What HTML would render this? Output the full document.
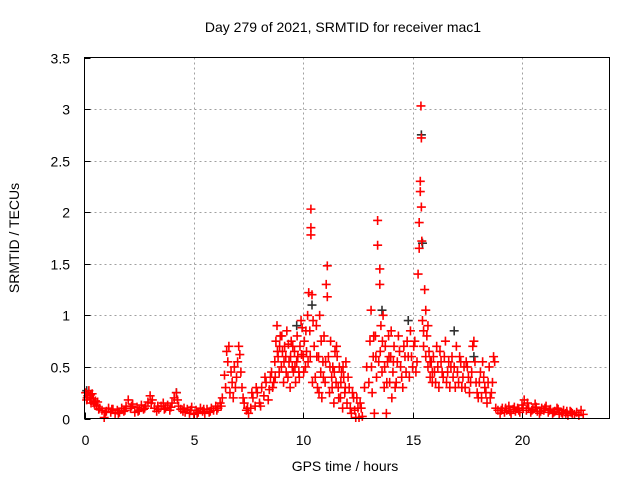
<!DOCTYPE html>
<html><head><meta charset="utf-8"><style>
body{margin:0;background:#fff}
svg{display:block;font-family:"Liberation Sans",sans-serif}
</style></head><body>
<svg id="chart" width="640" height="480" viewBox="0 0 640 480">
<rect width="640" height="480" fill="#fff"/>
<text x="343" y="32" font-size="14" text-anchor="middle" fill="#000">Day 279 of 2021, SRMTID for receiver mac1</text>
<text x="345" y="471" font-size="14" text-anchor="middle" fill="#000">GPS time / hours</text>
<text x="0" y="0" font-size="14" text-anchor="middle" fill="#000" transform="translate(19,238) rotate(-90)">SRMTID / TECUs</text>
<g id="grid"></g>
<g id="ticks"></g>
<g id="marks"></g>
<rect x="84.5" y="57.5" width="525" height="361" fill="none" stroke="#000" stroke-width="1"/>
</svg>
<script>
const xTicks=[0,5,10,15,20];
const yTicks=[0,0.5,1,1.5,2,2.5,3,3.5];
const yTickLabels=["0","0.5","1","1.5","2","2.5","3","3.5"];
const hours=[
0.05,0.1,0.15,0.2,0.25,0.3,0.35,0.4,0.45,0.5,
0.55,0.6,0.7,0.8,0.9,1.0,1.1,1.2,1.3,1.4,
1.5,1.6,1.7,1.8,1.9,2.0,2.1,2.2,2.3,2.4,
2.5,2.6,2.7,2.8,2.9,3.0,3.1,3.2,3.3,3.4,
3.5,3.6,3.7,3.8,3.9,4.0,4.1,4.2,4.3,4.4,
4.5,4.6,4.7,4.8,4.9,5.0,5.1,5.2,5.3,5.4,
5.5,5.6,5.7,5.8,5.9,6.0,6.1,6.2,6.3,6.4,
6.45,6.5,6.55,6.6,6.65,6.7,6.75,6.8,6.85,6.9,
6.95,7.0,7.05,7.1,7.15,7.2,7.3,7.4,7.5,7.6,
7.7,7.8,7.9,8.0,8.1,8.2,8.3,8.4,8.5,8.6,
8.7,8.75,8.8,8.85,8.9,8.95,9.0,9.05,9.1,9.15,
9.2,9.25,9.3,9.35,9.4,9.45,9.5,9.55,9.6,9.65,
9.7,9.75,9.8,9.85,9.9,9.95,10.0,10.05,10.1,10.15,
10.2,10.25,10.3,10.35,10.35,10.35,10.4,10.45,10.5,10.55,
10.6,10.65,10.7,10.75,10.8,10.85,10.9,10.95,11.0,11.05,
11.1,11.1,11.15,11.2,11.25,11.3,11.35,11.4,11.45,11.5,
11.55,11.6,11.65,11.7,11.75,11.8,11.85,11.9,11.95,12.0,
12.1,12.2,12.3,12.4,12.5,12.6,12.7,12.8,12.9,13.0,
13.05,13.1,13.15,13.2,13.25,13.3,13.35,13.4,13.4,13.45,
13.5,13.5,13.55,13.6,13.65,13.7,13.75,13.8,13.85,13.9,
13.95,14.0,14.05,14.1,14.15,14.2,14.3,14.4,14.5,14.6,
14.7,14.8,14.9,15.0,15.1,15.2,15.25,15.3,15.3,15.35,
15.35,15.38,15.4,15.4,15.42,15.45,15.5,15.55,15.6,15.65,
15.7,15.75,15.8,15.85,15.9,15.95,16.0,16.1,16.2,16.3,
16.4,16.5,16.6,16.7,16.8,16.9,17.0,17.1,17.2,17.3,
17.4,17.5,17.6,17.7,17.8,17.9,18.0,18.1,18.2,18.3,
18.4,18.5,18.6,18.7,18.8,18.9,19.0,19.1,19.2,19.3,
19.4,19.5,19.6,19.7,19.8,19.9,20.0,20.1,20.2,20.3,
20.4,20.5,20.6,20.7,20.8,20.9,21.0,21.1,21.2,21.3,
21.4,21.5,21.6,21.7,21.8,21.9,22.0,22.1,22.2,22.3,
22.4,22.5,22.6,22.7,22.8,
0.12,0.28,0.42,0.65,0.95,1.25,1.55,1.85,2.15,2.45,
2.75,3.05,3.35,3.65,3.95,4.25,4.55,4.85,5.15,5.45,
5.75,6.05,6.25,7.25,7.45,7.65,7.85,8.05,8.25,8.45,
8.55,8.65,8.72,8.82,8.92,9.02,9.12,9.22,9.32,9.42,
9.52,9.62,9.72,9.82,9.92,10.02,10.12,10.22,10.32,10.42,
10.62,10.72,10.82,10.92,11.02,11.22,11.32,11.42,11.52,11.62,
11.72,11.82,11.92,12.05,12.15,12.25,12.35,12.45,12.55,12.65,
13.12,13.22,13.32,13.52,13.62,13.72,13.82,13.92,14.02,14.12,
14.25,14.35,14.45,14.55,14.65,14.75,14.85,14.95,15.05,15.15,
15.5,15.6,15.7,15.8,15.9,16.05,16.15,16.25,16.35,16.45,
16.55,16.65,16.75,16.85,16.95,17.05,17.15,17.25,17.35,17.45,
17.55,17.65,17.75,17.85,17.95,18.05,18.15,18.25,18.35,18.45,
18.55,18.65,18.75,19.05,19.25,19.45,19.65,19.85,20.05,20.25,
20.45,20.65,20.85,21.05,21.25,21.45,21.65,21.85,22.05,22.25];
const srmtid=[
0.25,0.18,0.22,0.27,0.2,0.15,0.24,0.19,0.14,0.17,
0.12,0.16,0.1,0.08,0.0,0.07,0.1,0.06,0.09,0.05,
0.08,0.06,0.1,0.07,0.12,0.18,0.1,0.14,0.06,0.11,
0.08,0.13,0.09,0.12,0.16,0.22,0.18,0.1,0.07,0.09,
0.12,0.15,0.1,0.13,0.08,0.15,0.2,0.25,0.12,0.09,
0.07,0.06,0.09,0.05,0.11,0.04,0.08,0.06,0.1,0.07,
0.05,0.09,0.06,0.1,0.08,0.12,0.1,0.15,0.2,0.42,
0.3,0.65,0.55,0.7,0.25,0.45,0.35,0.2,0.5,0.3,
0.4,0.55,0.7,0.62,0.45,0.3,0.15,0.08,0.05,0.1,
0.2,0.12,0.25,0.15,0.3,0.22,0.35,0.18,0.4,0.3,
0.55,0.75,0.9,0.6,0.45,0.8,0.5,0.65,0.35,0.7,
0.6,0.85,0.4,0.55,0.3,0.75,0.5,0.45,0.65,0.35,
0.55,0.6,0.45,0.7,0.95,0.88,0.6,0.75,0.5,0.65,
1.0,1.22,0.85,2.03,1.85,1.78,1.2,0.95,0.7,0.4,
0.9,0.3,0.6,1.0,0.45,0.2,0.55,0.8,0.35,1.3,
1.48,1.18,0.6,0.25,0.75,0.4,0.5,0.15,0.65,0.35,
0.6,0.3,0.5,0.2,0.45,0.1,0.4,0.25,0.55,0.15,
0.3,0.05,0.2,0.0,0.1,0.15,0.02,0.3,0.5,0.35,
0.75,1.05,0.25,0.6,0.05,0.8,0.4,1.92,1.68,0.55,
1.45,1.3,0.9,0.45,1.0,0.3,0.7,0.05,0.55,0.8,
0.35,0.6,0.2,0.45,0.7,0.3,0.55,0.65,0.4,0.7,
0.45,0.6,0.85,0.5,0.75,0.55,1.4,1.9,1.65,2.3,
2.2,3.03,2.72,2.05,1.72,0.95,0.7,1.25,1.05,0.8,
0.5,0.65,0.4,0.55,0.35,0.6,0.45,0.7,0.3,0.55,
0.4,0.75,0.45,0.3,0.6,0.5,0.7,0.35,0.55,0.4,
0.3,0.5,0.25,0.45,0.75,0.35,0.2,0.45,0.55,0.3,
0.15,0.5,0.25,0.6,0.1,0.08,0.05,0.1,0.06,0.08,
0.12,0.05,0.09,0.07,0.1,0.06,0.13,0.18,0.08,0.1,
0.06,0.09,0.14,0.07,0.05,0.1,0.08,0.12,0.06,0.09,
0.05,0.07,0.1,0.04,0.06,0.08,0.05,0.03,0.07,0.05,
0.04,0.06,0.03,0.08,0.04,
0.2,0.23,0.16,0.09,0.06,0.09,0.05,0.08,0.12,0.07,
0.1,0.15,0.12,0.09,0.11,0.18,0.1,0.08,0.05,0.09,
0.07,0.08,0.12,0.2,0.1,0.25,0.3,0.12,0.4,0.28,
0.45,0.35,0.4,0.65,0.7,0.8,0.55,0.45,0.72,0.6,
0.7,0.5,0.8,0.4,0.62,0.45,0.85,0.55,0.6,0.35,
0.6,0.25,0.75,0.4,0.55,0.5,0.3,0.45,0.7,0.2,
0.35,0.5,0.3,0.4,0.1,0.25,0.08,0.2,0.0,0.1,
0.5,0.8,0.6,0.65,0.75,0.5,0.35,0.6,0.85,0.55,
0.35,0.8,0.5,0.3,0.6,0.75,0.4,0.6,0.7,0.45,
0.85,0.6,0.9,0.55,0.45,0.35,0.5,0.65,0.45,0.6,
0.35,0.55,0.5,0.4,0.3,0.45,0.6,0.3,0.5,0.55,
0.4,0.35,0.7,0.55,0.25,0.35,0.2,0.4,0.25,0.35,
0.2,0.35,0.55,0.08,0.1,0.07,0.11,0.08,0.1,0.15,
0.08,0.11,0.07,0.1,0.08,0.06,0.09,0.05,0.07,0.06];
const altHours=[0.1,4.2,9.7,10.4,13.6,14.8,15.4,15.45,16.9,17.8];
const altSrmtid=[0.27,0.25,0.9,1.1,1.05,0.95,2.75,1.7,0.85,0.6];

const NS="http://www.w3.org/2000/svg";
const X0=84.5,X1=609.5,Y0=418.5,Y1=57.5;
function xs(h){return X0+(h/24)*(X1-X0);}
function ys(v){return Y0-(v/3.5)*(Y0-Y1);}
function mk(tag,attrs){const e=document.createElementNS(NS,tag);for(const k in attrs)e.setAttribute(k,attrs[k]);return e;}
const grid=document.getElementById('grid'),ticks=document.getElementById('ticks'),marks=document.getElementById('marks');
xTicks.forEach(t=>{
  const x=Math.round(xs(t))+0.5;
  if(t>0){const g=mk('line',{x1:x,x2:x,y1:Y1,y2:Y0,stroke:'#a0a0a0','stroke-dasharray':'2,3'});
  
  
  grid.appendChild(g);}
  const tk=mk('line',{x1:x,x2:x,y1:Y0,y2:Y0-6,stroke:'#000'});
  
  
  ticks.appendChild(tk);
  const tl=mk('text',{x:x,y:445,'font-size':14,'text-anchor':'middle',fill:'#000'});
  
  
  tl.textContent=String(t);ticks.appendChild(tl);
});
yTicks.forEach((t,i)=>{
  const y=Math.round(ys(t))+0.5;
  if(t>0&&t<3.5){const g=mk('line',{x1:X0,x2:X1,y1:y,y2:y,stroke:'#a0a0a0','stroke-dasharray':'2,3'});
  
  
  grid.appendChild(g);}
  const tk=mk('line',{x1:X0,x2:X0+6,y1:y,y2:y,stroke:'#000'});
  
  
  ticks.appendChild(tk);
  const tl=mk('text',{x:70,y:y+5,'font-size':14,'text-anchor':'end',fill:'#000'});
  
  
  tl.textContent=yTickLabels[i];ticks.appendChild(tl);
});
function cross(h,v,color,name){
  const x=xs(h),y=Math.min(ys(v),Y0-1);
  const p=mk('path',{d:`M${x-4.5},${y}H${x+4.5}M${x},${y-4.5}V${y+4.5}`,stroke:color,'stroke-width':1.6,fill:'none'});
  
  
  marks.appendChild(p);
}
for(let i=0;i<altHours.length;i++)cross(altHours[i],altSrmtid[i],'#303030','alt-point');
for(let i=0;i<hours.length;i++)cross(hours[i],srmtid[i],'#ff0000','srmtid-point');
</script>
</body></html>
